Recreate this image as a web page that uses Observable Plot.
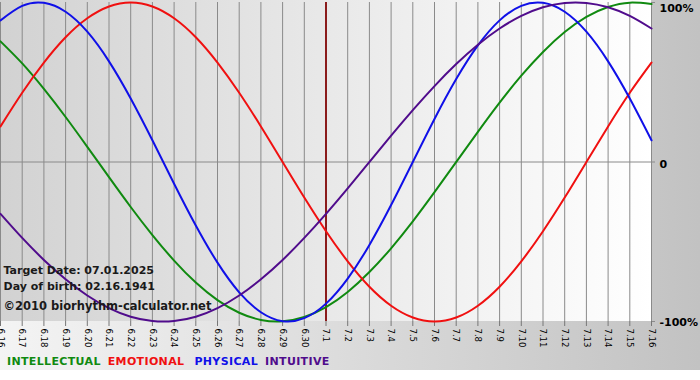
<!DOCTYPE html>
<html>
<head>
<meta charset="utf-8">
<script src="https://cdn.jsdelivr.net/npm/d3@7"></script>
<script src="https://cdn.jsdelivr.net/npm/@observablehq/plot@0.6"></script>
<style>
  html, body { margin: 0; padding: 0; background: #fff; }
  #wrap { position: relative; width: 700px; height: 370px; background: linear-gradient(to right, #f4f4f4, #c2c2c2); overflow: hidden; }
  #plotbg { position: absolute; left: 0; top: 0; width: 651px; height: 321px; background: linear-gradient(to right, #d2d2d2, #ffffff); }
  #chart { position: absolute; left: 0; top: 0; }
  #legend { position: absolute; left: 7px; top: 355px; font-family: "DejaVu Sans", Verdana, sans-serif; font-weight: bold; font-size: 11px; letter-spacing: 0.35px; white-space: nowrap; }
  #legend span { display: inline-block; }
</style>
</head>
<body>
<div id="wrap">
  <div id="plotbg"></div>
  <div id="chart"></div>
  <div id="legend"></div>
</div>
<script>
const dayLabels = ["6.16","6.17","6.18","6.19","6.20","6.21","6.22","6.23","6.24","6.25","6.26","6.27","6.28","6.29","6.30",
  "7.1","7.2","7.3","7.4","7.5","7.6","7.7","7.8","7.9","7.10","7.11","7.12","7.13","7.14","7.15","7.16"];
const physical = [0.888,0.979,0.998,0.942,0.817,0.631,0.398,0.136,-0.136,-0.398,-0.631,-0.817,-0.942,-0.998,-0.979,
  -0.888,-0.731,-0.520,-0.270,0,0.270,0.520,0.731,0.888,0.979,0.998,0.942,0.817,0.631,0.398,0.136];
const emotional = [0.223,0.434,0.623,0.782,0.901,0.975,1.0,0.975,0.901,0.782,0.623,0.434,0.223,0,-0.223,
  -0.434,-0.623,-0.782,-0.901,-0.975,-1,-0.975,-0.901,-0.782,-0.623,-0.434,-0.223,0,0.223,0.434,0.623];
const intellectual = [0.756,0.618,0.458,0.282,0.095,-0.095,-0.282,-0.458,-0.618,-0.756,-0.866,-0.945,-0.990,-0.999,-0.972,
  -0.910,-0.815,-0.690,-0.541,-0.372,-0.189,0,0.189,0.372,0.541,0.690,0.815,0.910,0.972,0.999,0.990];
const intuitive = [-0.325,-0.476,-0.614,-0.735,-0.837,-0.916,-0.970,-0.997,-0.997,-0.970,-0.916,-0.837,-0.735,-0.614,-0.476,
  -0.325,-0.165,0,0.165,0.325,0.476,0.614,0.735,0.837,0.916,0.970,0.997,0.997,0.970,0.916,0.837];
const targetDay = "7.1";
const yTicks = [-1, 0, 1];
const yLabels = ["-100%", "0", "100%"];
const seriesNames = ["INTELLECTUAL", "EMOTIONAL", "PHYSICAL", "INTUITIVE"];
const seriesColors = ["#108a10", "#f01010", "#1010e8", "#500c8c"];
const notes = ["Target Date: 07.01.2025", "Day of birth: 02.16.1941", "©2010 biorhythm-calculator.net"];

const seriesValues = [intellectual, emotional, physical, intuitive];
const rows = [];
seriesNames.forEach((name, s) => seriesValues[s].forEach((v, i) => rows.push({series: name, i, v})));
const idx = dayLabels.map((_, i) => i);
const targetIdx = dayLabels.indexOf(targetDay);

const font = "DejaVu Sans, Verdana, sans-serif";
const plot = Plot.plot({
  width: 700,
  height: 350,
  marginLeft: 0,
  marginRight: 49,
  marginTop: 2,
  marginBottom: 29,
  style: {background: "transparent", fontFamily: font},
  x: {type: "linear", domain: [0, dayLabels.length - 1]},
  y: {domain: [-1, 1]},
  color: {domain: seriesNames, range: seriesColors},
  marks: [
    Plot.ruleX(idx, {stroke: "#8a8a8a", strokeWidth: 1}),
    Plot.ruleY([0], {stroke: "#8a8a8a", strokeWidth: 1}),
    Plot.axisX(idx, {
      tickFormat: i => dayLabels[i], tickRotate: 90, tickSize: 5, tickPadding: 2,
      fontSize: 8.5, stroke: "#777", label: null
    }),
    Plot.axisY(yTicks, {
      anchor: "right", tickFormat: v => yLabels[yTicks.indexOf(v)], tickSize: 3, tickPadding: 5,
      fontSize: 11, fontWeight: "bold", stroke: "#8a8a8a", label: null
    }),
    Plot.ruleX([targetIdx], {stroke: "#8b1c1c", strokeWidth: 2}),
    Plot.line(rows, {x: "i", y: "v", z: "series", stroke: "series", strokeWidth: 2, curve: "natural"}),
    Plot.text(notes, {
      text: d => d, frameAnchor: "bottom-left", textAnchor: "start", lineAnchor: "middle",
      dx: 3, fontWeight: "bold", fill: "#1a1a1a", fontSize: 11
    })
  ]
});
document.getElementById("chart").appendChild(plot);

// stack the note lines and nudge the y-axis labels
const noteDy = [-48, -32, -12];
const axisDy = {"100%": 6, "0": 2, "-100%": 1};
plot.querySelectorAll("text").forEach(t => {
  const s = t.textContent;
  const k = notes.indexOf(s);
  if (k >= 0) {
    t.setAttribute("y", (+t.getAttribute("y") || 0) + noteDy[k]);
    t.setAttribute("font-size", k === 2 ? 11.5 : 11);
  } else if (s in axisDy) {
    const tr = t.getAttribute("transform") || "";
    t.setAttribute("transform", tr + ` translate(0,${axisDy[s]})`);
  }
});

const legend = document.getElementById("legend");
const gaps = [7, 10, 7, 0];
seriesNames.forEach((name, s) => {
  const span = document.createElement("span");
  span.textContent = name;
  span.style.color = seriesColors[s];
  span.style.marginRight = gaps[s] + "px";
  legend.appendChild(span);
});
</script>
</body>
</html>
